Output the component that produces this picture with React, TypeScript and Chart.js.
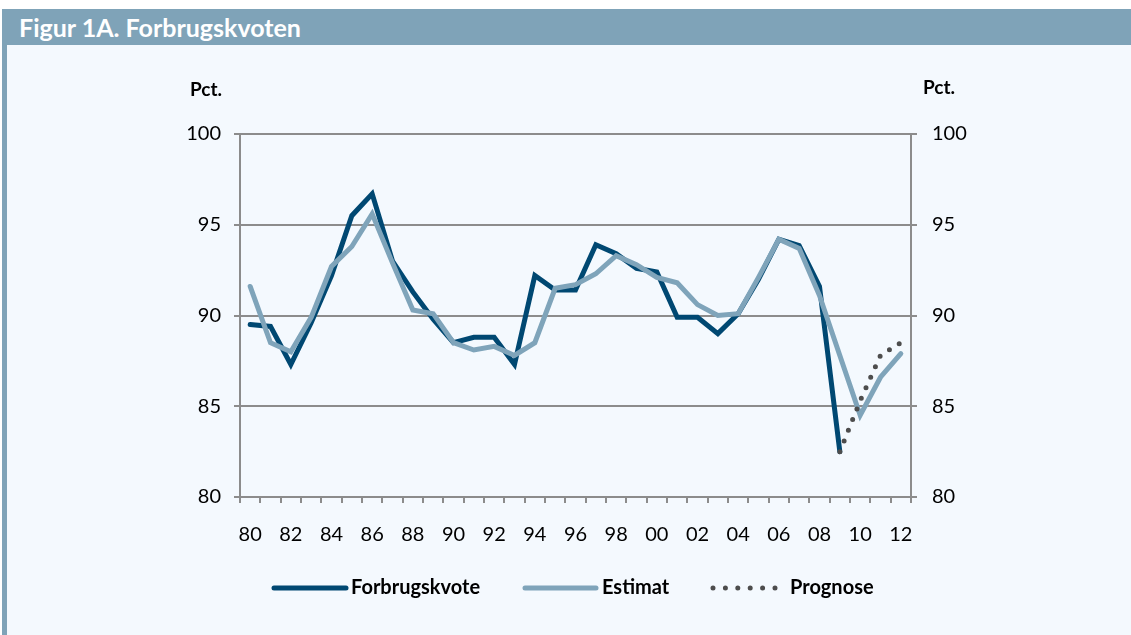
import React, { useEffect, useRef } from "react";
import { Chart, registerables } from "chart.js";

Chart.register(...registerables);

const categories: string[] = [
  "80", "81", "82", "83", "84", "85", "86", "87", "88", "89",
  "90", "91", "92", "93", "94", "95", "96", "97", "98", "99",
  "00", "01", "02", "03", "04", "05", "06", "07", "08", "09",
  "10", "11", "12",
];

const forbrugskvote: (number | null)[] = [
  89.5, 89.4, 87.3, 89.6, 92.2, 95.5, 96.7, 93.0, 91.3, 89.8,
  88.5, 88.8, 88.8, 87.3, 92.2, 91.4, 91.4, 93.9, 93.4, 92.6,
  92.4, 89.9, 89.9, 89.0, 90.1, 92.0, 94.2, 93.85, 91.6, 82.5,
  null, null, null,
];

const estimat: (number | null)[] = [
  91.6, 88.5, 88.0, 89.9, 92.7, 93.8, 95.6, 92.9, 90.3, 90.1,
  88.5, 88.1, 88.3, 87.8, 88.5, 91.5, 91.7, 92.3, 93.3, 92.8,
  92.1, 91.8, 90.6, 90.0, 90.1, 92.1, 94.2, 93.7, 91.1, 87.8,
  84.5, 86.6, 87.9,
];

const prognose: (number | null)[] = [
  null, null, null, null, null, null, null, null, null, null,
  null, null, null, null, null, null, null, null, null, null,
  null, null, null, null, null, null, null, null, null, 82.5,
  85.3, 87.8, 88.5,
];

const yTicks: number[] = [80, 85, 90, 95, 100];

const DARK = "#004872";
const LIGHT = "#7fa4ba";
const DOT = "#4d4d4d";
const GRID = "#8c8c8c";
const FONT = "Lato";

export default function App() {
  const ref = useRef<HTMLCanvasElement | null>(null);

  useEffect(() => {
    if (!ref.current) return;

    const overlay = {
      id: "overlay",
      afterDraw(chart: any) {
        const ctx = chart.ctx as CanvasRenderingContext2D;
        ctx.save();
        // Pct. labels
        ctx.fillStyle = "#000";
        ctx.font = `bold 19px ${FONT}`;
        ctx.textBaseline = "middle";
        ctx.textAlign = "center";
        ctx.fillText("Pct.", 206, 90);
        ctx.fillText("Pct.", 939, 88);

        // legend
        const items = [
          { label: "Forbrugskvote", color: DARK, x0: 274, x1: 346, tx: 351, dash: [] as number[] },
          { label: "Estimat", color: LIGHT, x0: 525, x1: 596, tx: 602, dash: [] as number[] },
          { label: "Prognose", color: DOT, x0: 713, x1: 775, tx: 790, dash: [0, 12.4] },
        ];
        const ly = 588;
        for (const it of items) {
          ctx.beginPath();
          ctx.strokeStyle = it.color;
          ctx.lineWidth = 5;
          ctx.lineCap = "round";
          ctx.setLineDash(it.dash);
          ctx.moveTo(it.x0, ly);
          ctx.lineTo(it.x1, ly);
          ctx.stroke();
          ctx.setLineDash([]);
          ctx.fillStyle = "#000";
          ctx.font = `bold 20px ${FONT}`;
          ctx.textAlign = "left";
          ctx.fillText(it.label, it.tx, ly);
        }
        ctx.restore();
      },
    };

    const tickFont = { family: FONT, size: 20 };

    const chart = new Chart(ref.current, {
      type: "line",
      data: {
        labels: categories,
        datasets: [
          {
            label: "Prognose",
            data: prognose,
            borderColor: DOT,
            borderWidth: 5,
            borderDash: [0, 11.5],
            borderCapStyle: "round",
            pointRadius: 0,
            fill: false,
            order: 0,
            spanGaps: false,
          },
          {
            label: "Estimat",
            data: estimat,
            borderColor: LIGHT,
            borderWidth: 5,
            borderJoinStyle: "miter",
            borderCapStyle: "round",
            pointRadius: 0,
            fill: false,
            order: 1,
          },
          {
            label: "Forbrugskvote",
            data: forbrugskvote,
            borderColor: DARK,
            borderWidth: 5,
            borderJoinStyle: "miter",
            borderCapStyle: "round",
            pointRadius: 0,
            fill: false,
            order: 2,
          },
        ],
      },
      options: {
        animation: false,
        responsive: false,
        maintainAspectRatio: false,
        layout: { padding: { top: 134, left: 0, right: 0, bottom: 0 } },
        plugins: {
          legend: { display: false },
          tooltip: { enabled: false },
          title: { display: false },
        },
        elements: { line: { tension: 0 }, point: { radius: 0 } },
        scales: {
          x: {
            type: "category",
            offset: true,
            grid: {
              offset: true,
              drawOnChartArea: false,
              drawTicks: true,
              tickLength: 6,
              color: GRID,
              lineWidth: 2,
            },
            border: { display: true, color: GRID, width: 2 },
            ticks: {
              autoSkip: false,
              maxRotation: 0,
              minRotation: 0,
              padding: 20,
              color: "#000",
              font: tickFont,
              callback: (_v: any, i: number) => (i % 2 === 0 ? categories[i] : ""),
            },
            afterFit: (s: any) => {
              s.height = 138;
            },
          },
          y: {
            position: "left",
            min: yTicks[0],
            max: yTicks[yTicks.length - 1],
            afterBuildTicks: (s: any) => {
              s.ticks = yTicks.map((v) => ({ value: v }));
            },
            grid: { color: GRID, lineWidth: 2, tickLength: 6, drawTicks: true },
            border: { display: true, color: GRID, width: 2 },
            ticks: { padding: 13, color: "#000", font: tickFont },
            afterFit: (s: any) => {
              s.width = 240;
            },
          },
          y2: {
            position: "right",
            min: yTicks[0],
            max: yTicks[yTicks.length - 1],
            afterBuildTicks: (s: any) => {
              s.ticks = yTicks.map((v) => ({ value: v }));
            },
            grid: { color: GRID, lineWidth: 2, tickLength: 6, drawTicks: true, drawOnChartArea: false },
            border: { display: true, color: GRID, width: 2 },
            ticks: { padding: 15, color: "#000", font: tickFont },
            afterFit: (s: any) => {
              s.width = 220;
            },
          },
        },
      } as any,
      plugins: [overlay],
    });

    return () => chart.destroy();
  }, []);

  return (
    <div style={{ position: "fixed", left: 0, top: 0, width: 1131, height: 635, background: "#ffffff", overflow: "hidden" }}>
      <div
        style={{
          position: "absolute",
          left: 2,
          top: 9,
          right: 0,
          height: 36,
          background: "#7fa3b8",
          color: "#ffffff",
          fontFamily: FONT,
          fontWeight: 700,
          fontSize: 25,
          lineHeight: "36px",
          paddingLeft: 17,
          boxSizing: "border-box",
          whiteSpace: "nowrap",
        }}
      >
        Figur 1A. Forbrugskvoten
      </div>
      <div
        style={{
          position: "absolute",
          left: 2,
          top: 45,
          right: 0,
          bottom: 0,
          background: "#f4f9fe",
          borderLeft: "5px solid #7fa3b8",
        }}
      />
      <canvas ref={ref} width={1131} height={635} style={{ position: "absolute", left: 0, top: 0, width: 1131, height: 635 }} />
    </div>
  );
}
